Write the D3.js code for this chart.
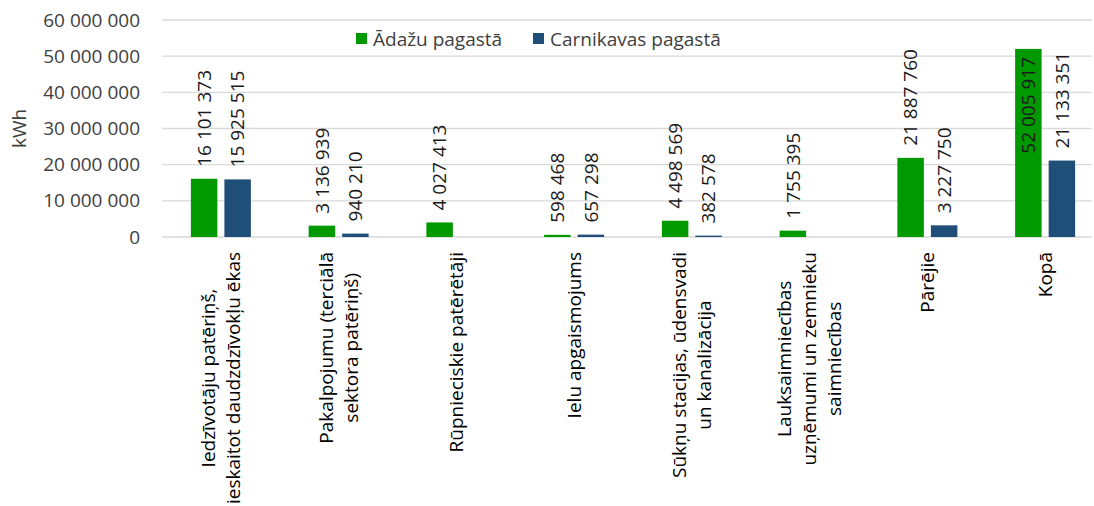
<!DOCTYPE html>
<html><head><meta charset="utf-8">
<script src="https://cdn.jsdelivr.net/npm/d3@7"></script>
<style>body{margin:0;background:#fff}svg{display:block}</style>
</head><body><svg id="c" width="1094" height="506"></svg>
<script>
const categories = [
  ["Iedzīvotāju patēriņš,", "ieskaitot daudzdzīvokļu ēkas"],
  ["Pakalpojumu (terciālā", "sektora patēriņš)"],
  ["Rūpnieciskie patērētāji"],
  ["Ielu apgaismojums"],
  ["Sūkņu stacijas, ūdensvadi", "un kanalizācija"],
  ["Lauksaimniecības", "uzņēmumi un zemnieku", "saimniecības"],
  ["Pārējie"],
  ["Kopā"]
];
const seriesNames = ["Ādažu pagastā", "Carnikavas pagastā"];
const adazi = [16101373, 3136939, 4027413, 598468, 4498569, 1755395, 21887760, 52005917];
const carnikava = [15925515, 940210, null, 657298, 382578, null, 3227750, 21133351];
const yTicks = [0, 10000000, 20000000, 30000000, 40000000, 50000000, 60000000];
const colors = ["#009900", "#1f4e79"];
const axisTitle = "kWh";

const FONT = "'Open Sans', sans-serif";
const svg = d3.select("#c");
const fmt = v => d3.format(",")(v).replace(/,/g, " ");

const plotL = 162, plotR = 1092, plotT = 20, plotB = 237;
const y = d3.scaleLinear().domain([0, 60000000]).range([plotB, plotT]);
const x0 = d3.scaleBand().domain(d3.range(categories.length)).range([plotL, 1104]);
const bw = x0.bandwidth();
const x1 = d3.scaleBand().domain([0, 1]).range([0, 60]).paddingInner(0.21);

// gridlines
svg.append("g").selectAll("line").data(yTicks).join("line")
  .attr("x1", plotL).attr("x2", plotR)
  .attr("y1", d => y(d)).attr("y2", d => y(d))
  .attr("stroke", "#d9d9d9").attr("stroke-width", 1.3);

// y axis labels
const yAxis = svg.append("g").attr("transform", `translate(${plotL},0)`)
  .call(d3.axisLeft(y).tickValues(yTicks).tickSize(0).tickPadding(22).tickFormat(fmt));
yAxis.select(".domain").remove();
yAxis.selectAll("text").attr("font-family", FONT).attr("font-size", 19).attr("fill", "#404040");

svg.append("text").attr("transform", `translate(26,${(plotT + plotB) / 2}) rotate(-90)`)
  .attr("text-anchor", "middle").attr("font-family", FONT).attr("font-size", 19)
  .attr("fill", "#404040").text(axisTitle);

const series = [adazi, carnikava];
series.forEach((vals, s) => {
  const g = svg.append("g");
  const data = vals.map((v, i) => ({v, i})).filter(d => d.v != null);
  g.selectAll("rect").data(data).join("rect")
    .attr("x", d => x0(d.i) + (bw - 60) / 2 + x1(s))
    .attr("width", x1.bandwidth())
    .attr("y", d => y(d.v))
    .attr("height", d => plotB - y(d.v))
    .attr("fill", colors[s]);
  g.selectAll("text").data(data).join("text")
    .attr("font-family", FONT).attr("font-size", 19).attr("fill", "#1a1a1a")
    .attr("dy", "0.35em")
    .text(d => fmt(d.v))
    .each(function(d) {
      const len = this.getComputedTextLength();
      const cx = x0(d.i) + (bw - 60) / 2 + x1(s) + x1.bandwidth() / 2;
      const top = y(d.v);
      let ay, anchor;
      if (top - 12 - len < 12) { ay = top + 8; anchor = "end"; }
      else { ay = top - 12; anchor = "start"; }
      d3.select(this).attr("text-anchor", anchor)
        .attr("transform", `translate(${cx},${ay}) rotate(-90)`);
    });
});

// category labels
const catG = svg.append("g");
categories.forEach((lines, i) => {
  const cx = x0(i) + bw / 2;
  const lh = 25;
  const g = catG.append("g");
  const texts = lines.map((ln, k) => g.append("text")
    .attr("font-family", FONT).attr("font-size", 19).attr("fill", "#000")
    .attr("text-anchor", "middle").attr("dy", "0.35em").text(ln));
  const maxLen = d3.max(texts, t => t.node().getComputedTextLength());
  const cy = 252 + maxLen / 2;
  texts.forEach((t, k) => {
    const xx = cx + (k - (lines.length - 1) / 2) * lh;
    t.attr("transform", `translate(${xx},${cy}) rotate(-90)`);
  });
});

// legend
const leg = svg.append("g");
const legX = [356, 533];
seriesNames.forEach((n, s) => {
  leg.append("rect").attr("x", legX[s]).attr("y", 33).attr("width", 11).attr("height", 11).attr("fill", colors[s]);
  leg.append("text").attr("x", legX[s] + 17).attr("y", 39).attr("dy", "0.35em")
    .attr("font-family", FONT).attr("font-size", 19).attr("fill", "#404040").text(n);
});
</script>
</body></html>
